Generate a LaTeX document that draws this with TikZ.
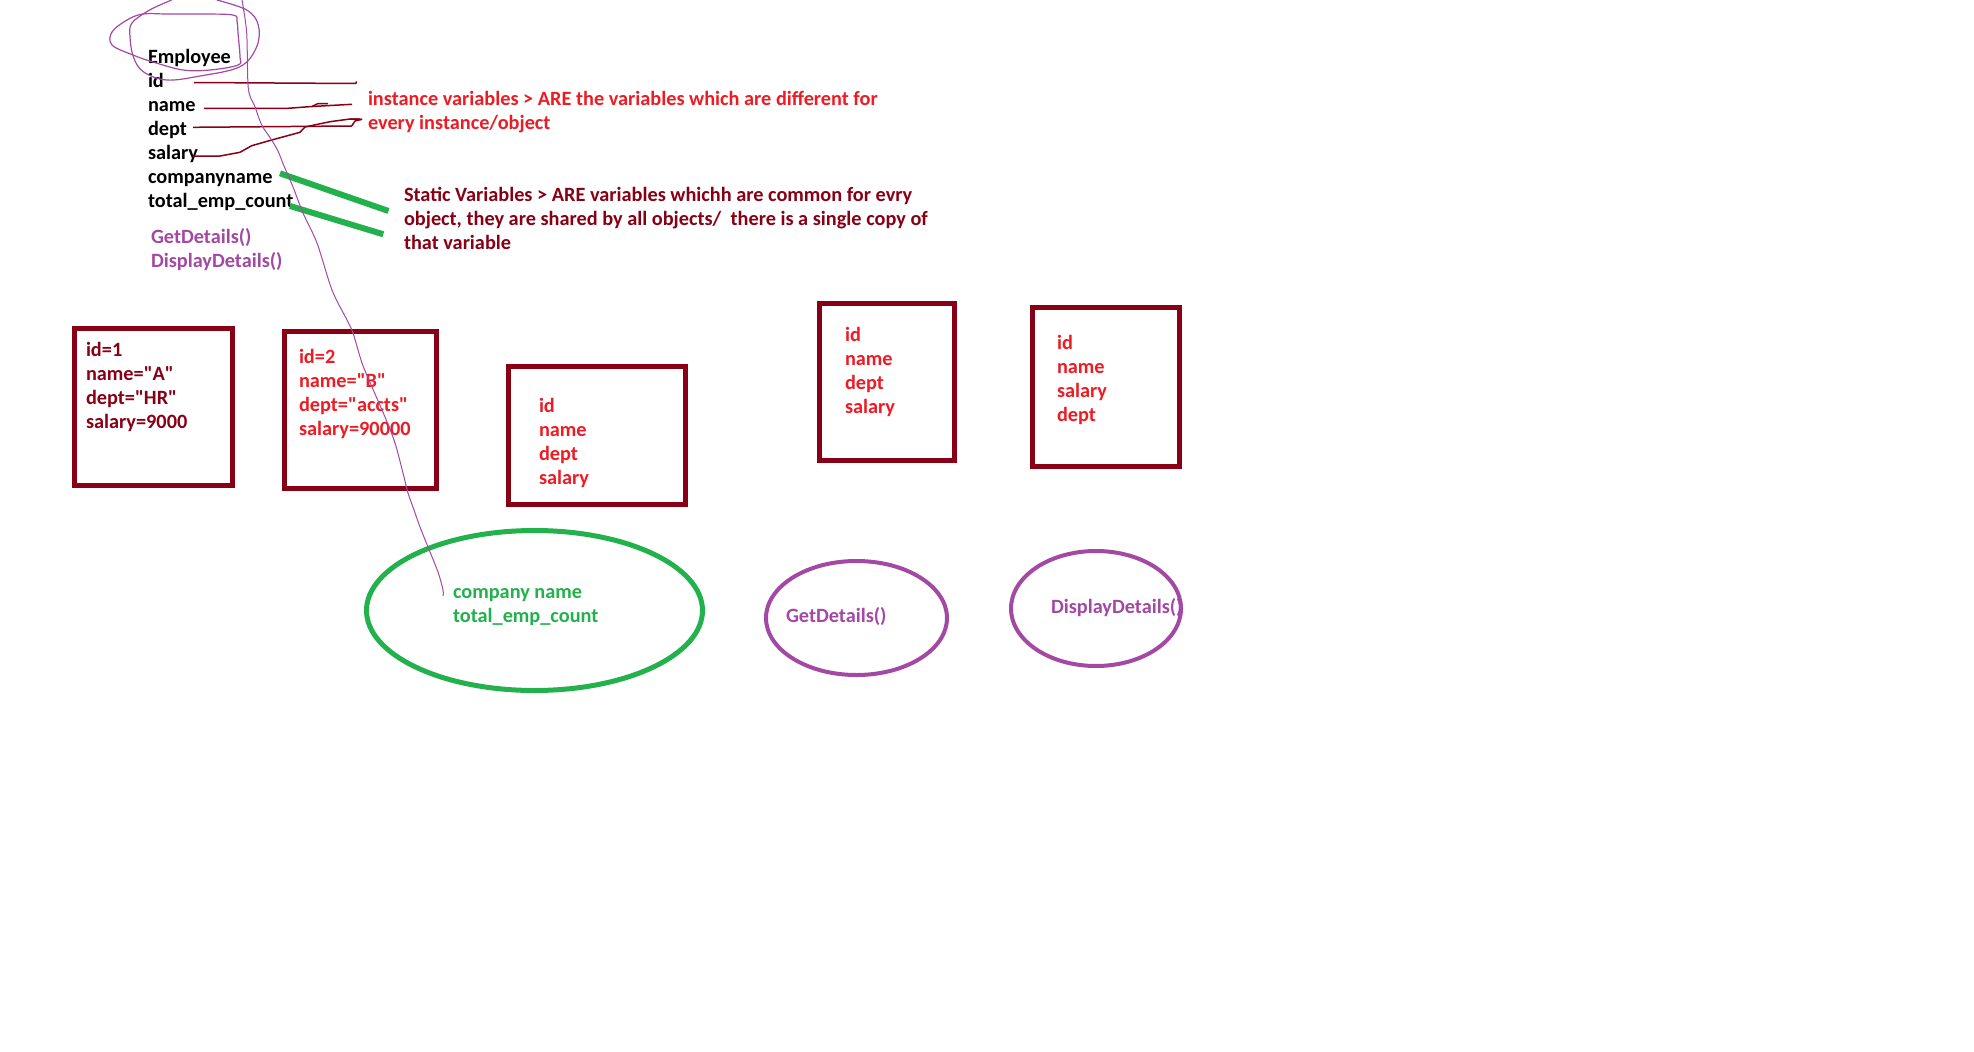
\documentclass[tikz,border=0pt]{standalone}
\usepackage{fontspec}
\setmainfont{Carlito}
\usetikzlibrary{shapes.geometric}
\definecolor{dred}{RGB}{136,0,21}
\definecolor{pred}{RGB}{237,28,36}
\definecolor{pgreen}{RGB}{34,177,76}
\definecolor{ppurple}{RGB}{163,73,164}
\newcommand{\dq}{\textquotedbl}
\begin{document}
\begin{tikzpicture}[x=1pt,y=-1pt,
  txt/.style={anchor=base west, inner sep=0pt, outer sep=0pt, font=\bfseries\fontsize{20.3}{24}\selectfont},
  objbox/.style={draw=dred, line width=5pt, anchor=north west, inner sep=0pt, outer sep=0pt},
  greenell/.style={draw=pgreen, line width=5pt, ellipse, inner sep=0pt, outer sep=0pt},
  purpell/.style={draw=ppurple, line width=4pt, ellipse, inner sep=0pt, outer sep=0pt},
  link/.style={draw=dred, line width=1.5pt, line join=round},
  glink/.style={draw=pgreen, line width=6pt},
  scribble/.style={draw=ppurple, line width=1.2pt}]
\fill[white] (0,0) rectangle (1974,1052);
\useasboundingbox (0,0) rectangle (1974,1052);

% class description
\foreach \t/\b [count=\i] in {Employee/63.5, id/87.5, name/111.5, dept/135.5, salary/159.5, companyname/183.5, total\_emp\_count/207.5}
  \node[txt] (cls\i) at (148,\b) {\t};
\node[txt, text=ppurple] (m1) at (151,243.5) {GetDetails()};
\node[txt, text=ppurple] (m2) at (151,267.5) {DisplayDetails()};

% notes
\node[txt, text=pred] (inst1) at (368,105) {instance variables > ARE the variables which are different for};
\node[txt, text=pred] (inst2) at (368,129) {every instance/object};
\node[txt, text=dred] (stat1) at (404,201) {Static Variables > ARE variables whichh are common for evry};
\node[txt, text=dred] (stat2) at (404,225) {object, they are shared by all objects/\ \ there is a single copy of};
\node[txt, text=dred] (stat3) at (404,249) {that variable};

% instance-variable connectors
\coordinate (idS) at (194,82.5);   \coordinate (idE) at (355.7,83.5);
\coordinate (nmS) at (204,108.3);  \coordinate (nmE) at (352,104.3);
\coordinate (dpS) at (193,127.3);  \coordinate (dpE) at (361.7,119.3);
\coordinate (slS) at (193,156);
\draw[link] (idS) -- (idE) -- ++(1,-2);
\draw[link] (nmS) -- (288,108.3) -- (312,106.5) -- (nmE);
\draw[link] (312,106.5) -- (318,103.5) -- (328,103.5);
\draw[link] (dpS) -- (351.7,126) -- (355,121) -- (dpE) -- (350,119);
\draw[link] (slS) -- (220,156) -- (240,152.3) -- (251.7,145.7) -- (271.7,140) -- (300,132.3) -- (305,127) -- (330,121.7) -- (350,119) -- (dpE);

% static-variable connectors
\coordinate (g1a) at (280,173.3); \coordinate (g1b) at (388.5,211);
\coordinate (g2a) at (290,206);   \coordinate (g2b) at (383.3,234.3);
\draw[glink] (g1a) -- (g1b);
\draw[glink] (g2a) -- (g2b);

% objects
\node[objbox, minimum width=158pt, minimum height=157pt] (b1) at (74.5,328.5) {};
\node[objbox, minimum width=152pt, minimum height=157pt] (b2) at (284.5,331.5) {};
\node[objbox, minimum width=177pt, minimum height=138pt] (b3) at (508.5,366.5) {};
\node[objbox, minimum width=135pt, minimum height=157pt] (b4) at (819.5,303.5) {};
\node[objbox, minimum width=147pt, minimum height=159pt] (b5) at (1032.5,307.5) {};

\foreach \t/\b [count=\i] in {id=1/356.5, name=\dq A\dq/380.5, dept=\dq HR\dq/404.5, salary=9000/428.5}
  \node[txt, text=dred] (ba\i) at (86,\b) {\t};
\foreach \t/\b [count=\i] in {id=2/363.5, name=\dq B\dq/387.5, dept=\dq accts\dq/411.5, salary=90000/435.5}
  \node[txt, text=pred] (bb\i) at (299,\b) {\t};
\foreach \t/\b [count=\i] in {id/412, name/436, dept/460, salary/484}
  \node[txt, text=pred] (bc\i) at (539,\b) {\t};
\foreach \t/\b [count=\i] in {id/341, name/365, dept/389, salary/413}
  \node[txt, text=pred] (bd\i) at (845,\b) {\t};
\foreach \t/\b [count=\i] in {id/349, name/373, salary/397, dept/421}
  \node[txt, text=pred] (be\i) at (1057,\b) {\t};

% shared members
\node[greenell, minimum width=336pt, minimum height=160pt] (sv) at (534.5,610.5) {};
\node[txt, text=pgreen] (sv1) at (453,598) {company name};
\node[txt, text=pgreen] (sv2) at (453,622) {total\_emp\_count};
\node[purpell, minimum width=181pt, minimum height=114pt] (gd) at (856.5,618) {};
\node[txt, text=ppurple] (gdt) at (786,622) {GetDetails()};
\node[purpell, minimum width=170pt, minimum height=115pt] (dd) at (1096,608.5) {};
\node[txt, text=ppurple] (ddt) at (1051,613) {DisplayDetails()};

% freehand purple scribbles
\draw[scribble] plot[smooth cycle, tension=0.6] coordinates {(112,32) (127,20) (143,14) (167,14) (200,14) (233,15) (237,21) (238,33) (240,57) (238,65) (210,70) (183,70) (153,62) (133,55) (112,45)};
\draw[scribble] plot[smooth, tension=0.6] coordinates {(216.7,0) (246.7,10) (258.3,25) (256.7,46.7) (240,66.7) (200,76) (166.7,80) (143.3,71.7) (133.3,56.7) (130,36.7) (131.7,23.3) (146.7,11.7) (160,5) (171.7,0)};
\coordinate (pS) at (242,0);
\coordinate (pE) at (443,596);
\draw[scribble, line width=1pt] plot[smooth, tension=0.5] coordinates {(pS) (246.7,33) (248.3,88.3) (255,106.7) (261.7,125) (271.7,140) (278.3,151.7) (283.3,164.3) (293,187) (303,213) (317,243) (332,290) (347,320) (353,333) (362,363) (372,387) (385,417) (395,443) (403,473) (408,493) (414,510) (420,527) (428,547) (438,572) (443,590) (pE)};
\end{tikzpicture}
\end{document}
